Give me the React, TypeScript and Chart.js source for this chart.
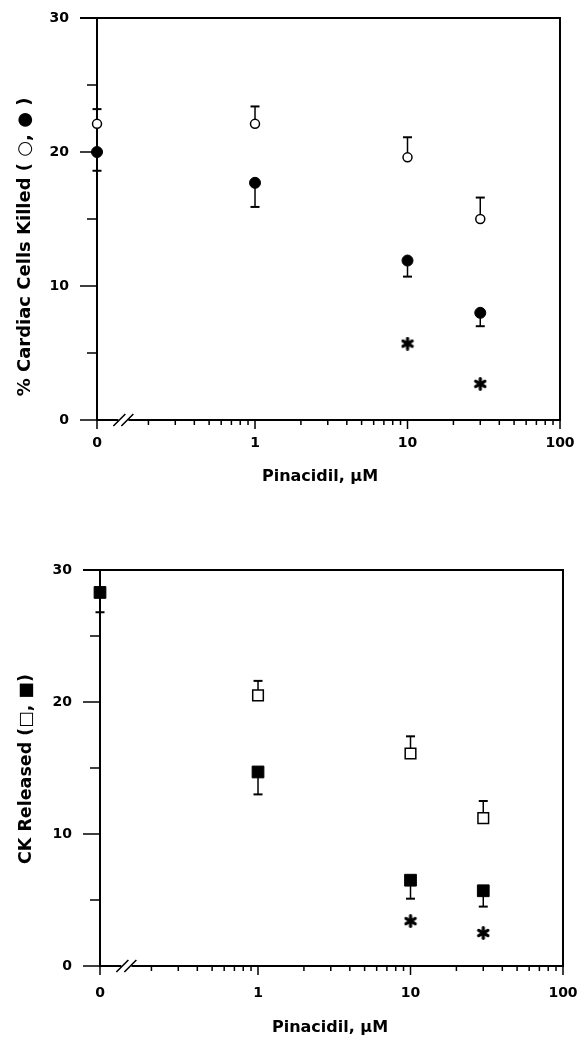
import React, { useEffect, useRef } from "react";
import { Chart, registerables } from "chart.js";

Chart.register(...registerables);

// ---------- data ----------
const CONC = [0, 1, 10, 30];
const CONC_OPEN_CK = [1, 10, 30];
const STAR_CONC = [10, 30];

const X_TICK_VALUES = [0, 1, 10, 100];
const X_TICK_LABELS = ["0", "1", "10", "100"];
const X_MINOR = [0.2, 0.3, 0.4, 0.5, 0.6, 0.7, 0.8, 0.9, 2, 3, 4, 5, 6, 7, 8, 9, 20, 30, 40, 50, 60, 70, 80, 90];
const Y_TICKS = [0, 10, 20, 30];
const Y_TICK_LABELS = ["0", "10", "20", "30"];
const Y_MINOR = [5, 15, 25];

// concentration 0 is plotted at the left end of the broken log axis
const AXIS_ZERO = 0.092;
const AXIS_BREAK = 0.137;

// top panel: % cardiac cells killed
const KILLED_OPEN = [22.1, 22.1, 19.6, 15.0];
const KILLED_OPEN_SEM = [1.1, 1.3, 1.5, 1.6];
const KILLED_FILLED = [20.0, 17.7, 11.9, 8.0];
const KILLED_FILLED_SEM = [1.4, 1.8, 1.2, 1.0];
const KILLED_STARS = [5.7, 2.7];

// bottom panel: CK released
const CK_OPEN = [20.5, 16.1, 11.2];
const CK_OPEN_SEM = [1.1, 1.3, 1.3];
const CK_FILLED = [28.3, 14.7, 6.5, 5.7];
const CK_FILLED_SEM = [1.5, 1.7, 1.4, 1.2];
const CK_STARS = [3.4, 2.5];

const X_TITLE = "Pinacidil, \u03bcM";
const KILLED_TITLE = "% Cardiac Cells Killed ( \u25cb, \u25cf )";
const CK_TITLE = "CK Released (\u25a1, \u25a0)";

const FONT = '"DejaVu Sans", Verdana, sans-serif';

const toAxis = (c: number) => (c === 0 ? AXIS_ZERO : c);

function makeAsterisk(): HTMLCanvasElement {
  const c = document.createElement("canvas");
  c.width = 14;
  c.height = 14;
  const g = c.getContext("2d")!;
  g.strokeStyle = "#000";
  g.lineWidth = 3.2;
  g.lineCap = "round";
  g.translate(7, 7);
  for (const a of [90, 30, 150]) {
    const r = (a * Math.PI) / 180;
    g.beginPath();
    g.moveTo(-5.3 * Math.cos(r), -5.3 * Math.sin(r));
    g.lineTo(5.3 * Math.cos(r), 5.3 * Math.sin(r));
    g.stroke();
  }
  return c;
}

type TitleCfg = {
  xTitleX: number;
  xTitleBaseline: number;
  yTitle: string;
  yTitleX: number;
  yTitleY: number;
  yTitleSize: number;
};

function makeDecor(t: TitleCfg) {
  return {
    id: "decor",
    beforeDatasetsDraw(chart: any) {
      const { ctx } = chart;
      const { left, right, top, bottom } = chart.chartArea;
      const x = chart.scales.x;
      const y = chart.scales.y;
      ctx.save();
      ctx.strokeStyle = "#000";
      ctx.fillStyle = "#000";
      ctx.lineCap = "butt";
      // frame and axes
      ctx.lineWidth = 2;
      ctx.beginPath();
      ctx.moveTo(left - 17, top);
      ctx.lineTo(right + 1, top);
      ctx.moveTo(right, top);
      ctx.lineTo(right, bottom);
      ctx.moveTo(left, top);
      ctx.lineTo(left, bottom + 1);
      ctx.stroke();
      const bx = x.getPixelForValue(AXIS_BREAK);
      ctx.beginPath();
      ctx.moveTo(left - 1, bottom);
      ctx.lineTo(bx - 5, bottom);
      ctx.moveTo(bx + 5, bottom);
      ctx.lineTo(right + 1, bottom);
      ctx.stroke();
      ctx.lineWidth = 1.6;
      ctx.beginPath();
      for (const dx of [-4, 4]) {
        ctx.moveTo(bx + dx - 6, bottom + 6);
        ctx.lineTo(bx + dx + 6, bottom - 6);
      }
      ctx.stroke();
      // y ticks
      ctx.lineWidth = 1.5;
      ctx.beginPath();
      for (const v of Y_TICKS) {
        const py = y.getPixelForValue(v);
        ctx.moveTo(left - 17, py);
        ctx.lineTo(left, py);
      }
      for (const v of Y_MINOR) {
        const py = y.getPixelForValue(v);
        ctx.moveTo(left - 10, py);
        ctx.lineTo(left, py);
      }
      // x ticks
      for (const v of X_TICK_VALUES) {
        const px = x.getPixelForValue(toAxis(v));
        ctx.moveTo(px, bottom);
        ctx.lineTo(px, bottom + 9);
      }
      for (const v of X_MINOR) {
        const px = x.getPixelForValue(v);
        ctx.moveTo(px, bottom);
        ctx.lineTo(px, bottom + 5);
      }
      ctx.stroke();

      // error bars (one-sided, capped)
      chart.data.datasets.forEach((ds: any, i: number) => {
        if (!ds.errors) return;
        const meta = chart.getDatasetMeta(i);
        ds.data.forEach((p: any, j: number) => {
          const el = meta.data[j];
          const cy = y.getPixelForValue(p.y + ds.errDir * ds.errors[j]);
          ctx.lineWidth = 1.5;
          ctx.beginPath();
          ctx.moveTo(el.x, el.y);
          ctx.lineTo(el.x, cy);
          ctx.stroke();
          ctx.lineWidth = 2;
          ctx.beginPath();
          ctx.moveTo(el.x - 4.5, cy);
          ctx.lineTo(el.x + 4.5, cy);
          ctx.stroke();
        });
      });

      // axis titles
      ctx.textAlign = "center";
      ctx.textBaseline = "alphabetic";
      ctx.font = `bold 16px ${FONT}`;
      ctx.fillText(X_TITLE, t.xTitleX, t.xTitleBaseline);
      ctx.translate(t.yTitleX, t.yTitleY);
      ctx.rotate(-Math.PI / 2);
      ctx.textBaseline = "middle";
      ctx.font = `bold ${t.yTitleSize}px ${FONT}`;
      ctx.fillText(t.yTitle, 0, 0);
      ctx.restore();
    },
  };
}

type PanelProps = {
  top: number;
  height: number;
  padTop: number;
  padRight: number;
  yAxisWidth: number;
  xAxisHeight: number;
  xLabelPad: number;
  titles: TitleCfg;
  datasets: () => any[];
};

function Panel(props: PanelProps) {
  const ref = useRef<HTMLCanvasElement>(null);
  useEffect(() => {
    const chart = new Chart(ref.current!, {
      type: "scatter",
      data: { datasets: props.datasets() },
      options: {
        animation: false,
        responsive: false,
        devicePixelRatio: 1,
        layout: { padding: { top: props.padTop, right: props.padRight, left: 0, bottom: 0 } },
        plugins: { legend: { display: false }, tooltip: { enabled: false } },
        scales: {
          x: {
            type: "logarithmic",
            min: AXIS_ZERO,
            max: 100,
            bounds: "data",
            grid: { display: false, drawTicks: false },
            border: { display: false },
            afterBuildTicks: (s: any) => {
              s.ticks = X_TICK_VALUES.map((v) => ({ value: toAxis(v) }));
            },
            afterFit: (s: any) => {
              s.height = props.xAxisHeight;
              s.paddingLeft = 0;
              s.paddingRight = 0;
            },
            ticks: {
              autoSkip: false,
              maxRotation: 0,
              padding: props.xLabelPad,
              color: "#000",
              font: { family: FONT, weight: "bold", size: 14 },
              callback: (_v: any, i: number) => X_TICK_LABELS[i],
            },
          },
          y: {
            type: "linear",
            min: 0,
            max: 30,
            grid: { display: false, drawTicks: false },
            border: { display: false },
            afterBuildTicks: (s: any) => {
              s.ticks = Y_TICKS.map((v) => ({ value: v }));
            },
            afterFit: (s: any) => {
              s.width = props.yAxisWidth;
              s.paddingTop = 0;
              s.paddingBottom = 0;
            },
            ticks: {
              padding: 28,
              color: "#000",
              font: { family: FONT, weight: "bold", size: 14 },
              callback: (_v: any, i: number) => Y_TICK_LABELS[i],
            },
          },
        },
      } as any,
      plugins: [makeDecor(props.titles) as any],
    });
    return () => chart.destroy();
  }, []);
  return (
    <canvas
      ref={ref}
      width={586}
      height={props.height}
      style={{ position: "absolute", left: 0, top: props.top, width: 586, height: props.height, display: "block" }}
    />
  );
}

const openStyle = (style: string, r: number) => ({
  pointStyle: style,
  pointRadius: r,
  pointHoverRadius: r,
  pointBackgroundColor: "#fff",
  pointBorderColor: "#000",
  pointBorderWidth: 1.5,
  showLine: false,
  clip: false,
});
const filledStyle = (style: string, r: number) => ({
  pointStyle: style,
  pointRadius: r,
  pointHoverRadius: r,
  pointBackgroundColor: "#000",
  pointBorderColor: "#000",
  pointBorderWidth: 1,
  showLine: false,
  clip: false,
});

function killedDatasets() {
  const star = makeAsterisk();
  return [
    {
      label: "open",
      data: CONC.map((c, i) => ({ x: toAxis(c), y: KILLED_OPEN[i] })),
      errors: KILLED_OPEN_SEM,
      errDir: 1,
      ...openStyle("circle", 4.5),
    },
    {
      label: "filled",
      data: CONC.map((c, i) => ({ x: toAxis(c), y: KILLED_FILLED[i] })),
      errors: KILLED_FILLED_SEM,
      errDir: -1,
      ...filledStyle("circle", 5.5),
    },
    {
      label: "significant",
      data: STAR_CONC.map((c, i) => ({ x: toAxis(c), y: KILLED_STARS[i] })),
      pointStyle: star,
      pointRadius: 6,
      showLine: false,
    },
  ];
}

function ckDatasets() {
  const star = makeAsterisk();
  return [
    {
      label: "open",
      data: CONC_OPEN_CK.map((c, i) => ({ x: toAxis(c), y: CK_OPEN[i] })),
      errors: CK_OPEN_SEM,
      errDir: 1,
      ...openStyle("rect", 7.5),
    },
    {
      label: "filled",
      data: CONC.map((c, i) => ({ x: toAxis(c), y: CK_FILLED[i] })),
      errors: CK_FILLED_SEM,
      errDir: -1,
      ...filledStyle("rect", 8.3),
    },
    {
      label: "significant",
      data: STAR_CONC.map((c, i) => ({ x: toAxis(c), y: CK_STARS[i] })),
      pointStyle: star,
      pointRadius: 6,
      showLine: false,
    },
  ];
}

export default function App() {
  return (
    <div style={{ position: "absolute", left: 0, top: 0, width: 586, height: 1041, background: "#fff", overflow: "hidden" }}>
      <Panel
        top={0}
        height={500}
        padTop={18}
        padRight={26}
        yAxisWidth={97}
        xAxisHeight={80}
        xLabelPad={15}
        titles={{ xTitleX: 320, xTitleBaseline: 481, yTitle: KILLED_TITLE, yTitleX: 25, yTitleY: 247, yTitleSize: 18 }}
        datasets={killedDatasets}
      />
      <Panel
        top={500}
        height={541}
        padTop={70}
        padRight={23}
        yAxisWidth={100}
        xAxisHeight={75}
        xLabelPad={19}
        titles={{ xTitleX: 330, xTitleBaseline: 532, yTitle: CK_TITLE, yTitleX: 26, yTitleY: 269, yTitleSize: 17.5 }}
        datasets={ckDatasets}
      />
    </div>
  );
}
